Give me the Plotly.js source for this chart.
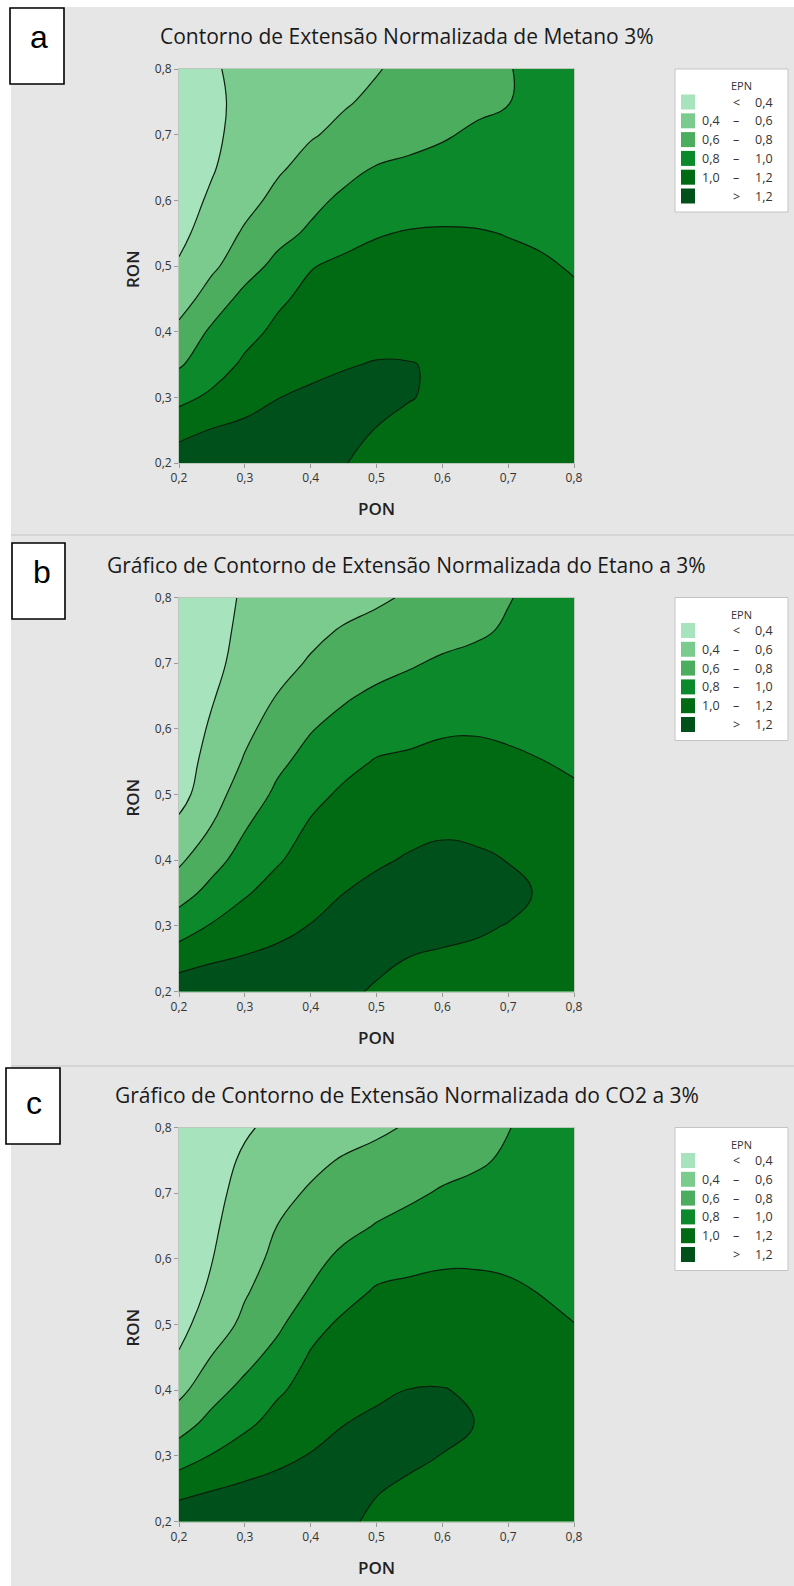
<!DOCTYPE html>
<html><head><meta charset="utf-8">
<script src="https://cdn.plot.ly/plotly-3.0.1.min.js"></script>
<style>html,body{margin:0;padding:0;background:#fff;overflow:hidden;} #chart{width:794px;height:1586px;}</style>
</head><body><div id="chart"></div>
<script>
// ---------------- data ----------------
const PON = [0.2, 0.25, 0.3, 0.35, 0.4, 0.45, 0.5, 0.55, 0.6, 0.65, 0.7, 0.75, 0.8];
const RON = [0.2, 0.25, 0.3, 0.35, 0.4, 0.45, 0.5, 0.55, 0.6, 0.65, 0.7, 0.75, 0.8];

// rows: RON = 0.2 ... 0.8 ; columns: PON = 0.2 ... 0.8
const epnMetano = [
  [1.32, 1.32, 1.31, 1.29, 1.26, 1.203, 1.18, 1.16, 1.145, 1.135, 1.125, 1.115, 1.105],
  [1.132, 1.21, 1.25, 1.27, 1.28, 1.24, 1.195, 1.17, 1.15, 1.14, 1.13, 1.12, 1.11],
  [0.948, 1.035, 1.116, 1.197, 1.223, 1.243, 1.25, 1.205, 1.18, 1.15, 1.13, 1.115, 1.10],
  [0.78, 0.907, 1.032, 1.122, 1.166, 1.19, 1.208, 1.205, 1.185, 1.16, 1.14, 1.11, 1.08],
  [0.65, 0.833, 0.941, 1.04, 1.11, 1.138, 1.152, 1.154, 1.15, 1.13, 1.11, 1.085, 1.06],
  [0.51, 0.69, 0.86, 0.97, 1.05, 1.086, 1.10, 1.105, 1.10, 1.09, 1.07, 1.045, 1.02],
  [0.42, 0.564, 0.713, 0.856, 0.99, 1.04, 1.05, 1.056, 1.055, 1.048, 1.033, 1.015, 0.99],
  [0.35, 0.49, 0.624, 0.735, 0.832, 0.93, 0.99, 1.01, 1.015, 1.01, 0.995, 0.98, 0.97],
  [0.33, 0.424, 0.541, 0.649, 0.746, 0.84, 0.90, 0.925, 0.94, 0.945, 0.94, 0.945, 0.95],
  [0.32, 0.387, 0.481, 0.576, 0.657, 0.733, 0.81, 0.84, 0.865, 0.885, 0.89, 0.91, 0.93],
  [0.32, 0.375, 0.445, 0.516, 0.586, 0.638, 0.685, 0.733, 0.78, 0.83, 0.86, 0.89, 0.91],
  [0.33, 0.377, 0.429, 0.481, 0.533, 0.585, 0.630, 0.671, 0.712, 0.754, 0.795, 0.844, 0.89],
  [0.35, 0.388, 0.428, 0.469, 0.51, 0.55, 0.591, 0.64, 0.691, 0.742, 0.793, 0.843, 0.88]
];

const epnEtano = [
  [1.324, 1.33, 1.33, 1.32, 1.30, 1.235, 1.18, 1.165, 1.155, 1.15, 1.145, 1.14, 1.13],
  [1.107, 1.178, 1.215, 1.243, 1.27, 1.28, 1.24, 1.196, 1.18, 1.17, 1.16, 1.15, 1.13],
  [0.9, 1.015, 1.09, 1.152, 1.205, 1.253, 1.30, 1.26, 1.24, 1.22, 1.195, 1.17, 1.13],
  [0.724, 0.859, 0.983, 1.068, 1.138, 1.199, 1.242, 1.28, 1.29, 1.28, 1.24, 1.185, 1.12],
  [0.566, 0.735, 0.874, 0.985, 1.07, 1.13, 1.18, 1.215, 1.235, 1.225, 1.196, 1.15, 1.10],
  [0.446, 0.607, 0.789, 0.91, 1.023, 1.085, 1.125, 1.156, 1.178, 1.167, 1.138, 1.106, 1.06],
  [0.33, 0.525, 0.692, 0.838, 0.949, 1.029, 1.067, 1.092, 1.114, 1.107, 1.083, 1.054, 1.015],
  [0.31, 0.465, 0.617, 0.762, 0.863, 0.949, 1.012, 1.028, 1.049, 1.048, 1.028, 1.003, 0.985],
  [0.3, 0.422, 0.557, 0.677, 0.789, 0.867, 0.923, 0.953, 0.98, 0.986, 0.973, 0.96, 0.945],
  [0.29, 0.387, 0.498, 0.607, 0.691, 0.775, 0.84, 0.871, 0.90, 0.916, 0.919, 0.92, 0.92],
  [0.29, 0.362, 0.452, 0.541, 0.618, 0.673, 0.727, 0.782, 0.826, 0.846, 0.865, 0.88, 0.90],
  [0.3, 0.361, 0.426, 0.491, 0.557, 0.614, 0.654, 0.694, 0.734, 0.774, 0.818, 0.86, 0.88],
  [0.32, 0.369, 0.41, 0.449, 0.49, 0.532, 0.573, 0.62, 0.677, 0.734, 0.792, 0.843, 0.87]
];

const epnCO2 = [
  [1.336, 1.34, 1.33, 1.32, 1.29, 1.23, 1.17, 1.15, 1.14, 1.13, 1.12, 1.11, 1.105],
  [1.126, 1.19, 1.232, 1.257, 1.27, 1.27, 1.21, 1.175, 1.16, 1.145, 1.13, 1.115, 1.105],
  [0.904, 1.01, 1.088, 1.158, 1.208, 1.248, 1.27, 1.23, 1.196, 1.17, 1.14, 1.12, 1.10],
  [0.71, 0.861, 0.963, 1.06, 1.135, 1.196, 1.228, 1.26, 1.25, 1.198, 1.16, 1.12, 1.09],
  [0.55, 0.724, 0.86, 0.977, 1.062, 1.141, 1.174, 1.203, 1.205, 1.185, 1.15, 1.11, 1.07],
  [0.418, 0.608, 0.734, 0.874, 1.019, 1.088, 1.121, 1.147, 1.149, 1.14, 1.11, 1.075, 1.04],
  [0.34, 0.5, 0.643, 0.762, 0.94, 1.034, 1.067, 1.09, 1.095, 1.09, 1.07, 1.035, 1.002],
  [0.29, 0.435, 0.582, 0.7, 0.814, 0.935, 1.02, 1.033, 1.041, 1.039, 1.025, 0.995, 0.97],
  [0.29, 0.395, 0.53, 0.646, 0.742, 0.844, 0.92, 0.96, 0.98, 0.981, 0.971, 0.96, 0.945],
  [0.28, 0.372, 0.489, 0.603, 0.673, 0.743, 0.81, 0.855, 0.897, 0.912, 0.918, 0.92, 0.92],
  [0.28, 0.356, 0.452, 0.548, 0.622, 0.671, 0.72, 0.769, 0.818, 0.843, 0.864, 0.88, 0.9],
  [0.29, 0.349, 0.418, 0.487, 0.556, 0.615, 0.655, 0.696, 0.737, 0.777, 0.822, 0.86, 0.885],
  [0.3, 0.34, 0.385, 0.431, 0.476, 0.522, 0.567, 0.617, 0.677, 0.737, 0.796, 0.84, 0.875]
];

const panelTitles = [
  'Contorno de Extensão Normalizada de Metano 3%',
  'Gráfico de Contorno de Extensão Normalizada do Etano a 3%',
  'Gráfico de Contorno de Extensão Normalizada do CO2 a 3%'
];
const panelLetters = ['a', 'b', 'c'];
const xAxisTitle = 'PON';
const yAxisTitle = 'RON';
const legendTitle = 'EPN';
const legendLow  = ['', '0,4', '0,6', '0,8', '1,0', ''];
const legendMid  = ['<', '–', '–', '–', '–', '>'];
const legendHigh = ['0,4', '0,6', '0,8', '1,0', '1,2', '1,2'];
const tickValues = [0.2, 0.3, 0.4, 0.5, 0.6, 0.7, 0.8];
const tickLabels = ['0,2', '0,3', '0,4', '0,5', '0,6', '0,7', '0,8'];
const levelStart = 0.4, levelEnd = 1.2, levelStep = 0.2;

// ---------------- style ----------------
const bandColors = ['#a7e3bd', '#7bcb8f', '#4dad5e', '#0b892b', '#006b13', '#00501b'];
const W = 794, H = 1586;
const FONT = 'Open Sans, Noto Sans, sans-serif';
const px = v => v / W;
const py = v => 1 - v / H;

const plotLeft = 179, plotRight = 574, plotH = 394;
const plotTops = [69, 597.5, 1127.5];
const letterBoxes = [[10, 8, 64, 84], [12, 543, 65, 619], [6, 1068, 60, 1144]];
const letterCenters = [[39, 37], [42, 572], [34, 1103]];
const sepLines = [535, 1066];

const colorscale = [];
bandColors.forEach((c, i) => {
  const lo = i === 0 ? 0 : (i - 0.5) / 5;
  const hi = i === 5 ? 1 : (i + 0.5) / 5;
  colorscale.push([lo, c], [hi, c]);
});

const datasets = [epnMetano, epnEtano, epnCO2];
const traces = [];
const layout = {
  width: W, height: H,
  margin: {l: 0, r: 0, t: 0, b: 0},
  paper_bgcolor: '#e6e6e6',
  plot_bgcolor: 'rgba(0,0,0,0)',
  separators: ',.',
  showlegend: false,
  shapes: [], annotations: []
};

// white page border strips
layout.shapes.push({type: 'rect', xref: 'paper', yref: 'paper', x0: 0, x1: px(11), y0: 0, y1: 1, fillcolor: '#ffffff', line: {width: 0}, layer: 'below'});
layout.shapes.push({type: 'rect', xref: 'paper', yref: 'paper', x0: 0, x1: 1, y0: py(7), y1: 1, fillcolor: '#ffffff', line: {width: 0}, layer: 'below'});
sepLines.forEach(s => layout.shapes.push({type: 'line', xref: 'paper', yref: 'paper', x0: px(11), x1: 1, y0: py(s), y1: py(s), line: {color: '#cfcfcf', width: 1.5}, layer: 'below'}));

datasets.forEach((z, k) => {
  const sfx = k === 0 ? '' : String(k + 1);
  const top = plotTops[k], bot = top + plotH;
  traces.push({
    type: 'contour', x: PON, y: RON, z: z,
    xaxis: 'x' + sfx, yaxis: 'y' + sfx,
    autocontour: false,
    contours: {start: levelStart, end: levelEnd, size: levelStep, coloring: 'fill', showlines: true},
    line: {color: '#0d1f0d', width: 1.2, smoothing: 1.3},
    colorscale: colorscale, showscale: false, hoverinfo: 'skip'
  });
  const axCommon = {
    range: [0.2, 0.8], fixedrange: true, tickvals: tickValues, ticktext: tickLabels,
    showgrid: false, zeroline: false, showline: true, mirror: true,
    linecolor: '#bcc8bc', linewidth: 1, ticks: 'outside', ticklen: 4, tickcolor: '#9a9a9a',
    tickfont: {family: FONT, size: 12, color: '#333333'}
  };
  layout['xaxis' + sfx] = Object.assign({}, axCommon, {domain: [px(plotLeft), px(plotRight)], anchor: 'y' + sfx});
  layout['yaxis' + sfx] = Object.assign({}, axCommon, {domain: [py(bot), py(top)], anchor: 'x' + sfx});

  // title
  layout.annotations.push({xref: 'paper', yref: 'paper', x: px(407), y: py(top - 33), text: panelTitles[k], showarrow: false,
    xanchor: 'center', yanchor: 'middle', font: {family: FONT, size: 21, color: '#1a1a1a'}});
  // axis titles
  layout.annotations.push({xref: 'paper', yref: 'paper', x: px(376.5), y: py(bot + 45.5), text: xAxisTitle, showarrow: false,
    xanchor: 'center', yanchor: 'middle', font: {family: FONT, size: 17, color: '#222222', weight: 600}});
  layout.annotations.push({xref: 'paper', yref: 'paper', x: px(132), y: py(top + 200), text: yAxisTitle, showarrow: false, textangle: -90,
    xanchor: 'center', yanchor: 'middle', font: {family: FONT, size: 17, color: '#222222', weight: 600}});
  // letter box
  const b = letterBoxes[k];
  layout.shapes.push({type: 'rect', xref: 'paper', yref: 'paper', x0: px(b[0]), x1: px(b[2]), y0: py(b[3]), y1: py(b[1]),
    fillcolor: '#ffffff', line: {color: '#000000', width: 1.6}});
  layout.annotations.push({xref: 'paper', yref: 'paper', x: px(letterCenters[k][0]), y: py(letterCenters[k][1]), text: panelLetters[k], showarrow: false,
    xanchor: 'center', yanchor: 'middle', font: {family: 'Liberation Sans, Arial, sans-serif', size: 32, color: '#000000'}});
  // legend
  layout.shapes.push({type: 'rect', xref: 'paper', yref: 'paper', x0: px(675), x1: px(788), y0: py(top + 143), y1: py(top),
    fillcolor: '#ffffff', line: {color: '#c4c4c4', width: 1}});
  layout.annotations.push({xref: 'paper', yref: 'paper', x: px(741), y: py(top + 17), text: legendTitle, showarrow: false,
    xanchor: 'center', yanchor: 'middle', font: {family: FONT, size: 11, color: '#333333'}});
  bandColors.forEach((c, i) => {
    const cy = top + 33 + i * 18.8;
    layout.shapes.push({type: 'rect', xref: 'paper', yref: 'paper', x0: px(681), x1: px(695), y0: py(cy + 7.5), y1: py(cy - 7.5),
      fillcolor: c, line: {width: 0}});
    if (legendLow[i]) layout.annotations.push({xref: 'paper', yref: 'paper', x: px(722), y: py(cy), text: legendLow[i], showarrow: false,
      xanchor: 'right', yanchor: 'middle', font: {family: FONT, size: 12.5, color: '#333333'}});
    layout.annotations.push({xref: 'paper', yref: 'paper', x: px(736), y: py(cy), text: legendMid[i], showarrow: false,
      xanchor: 'center', yanchor: 'middle', font: {family: FONT, size: 12.5, color: '#333333'}});
    layout.annotations.push({xref: 'paper', yref: 'paper', x: px(775), y: py(cy), text: legendHigh[i], showarrow: false,
      xanchor: 'right', yanchor: 'middle', font: {family: FONT, size: 12.5, color: '#333333'}});
  });
});

Plotly.newPlot('chart', traces, layout, {staticPlot: true, displayModeBar: false});
</script>
</body></html>
